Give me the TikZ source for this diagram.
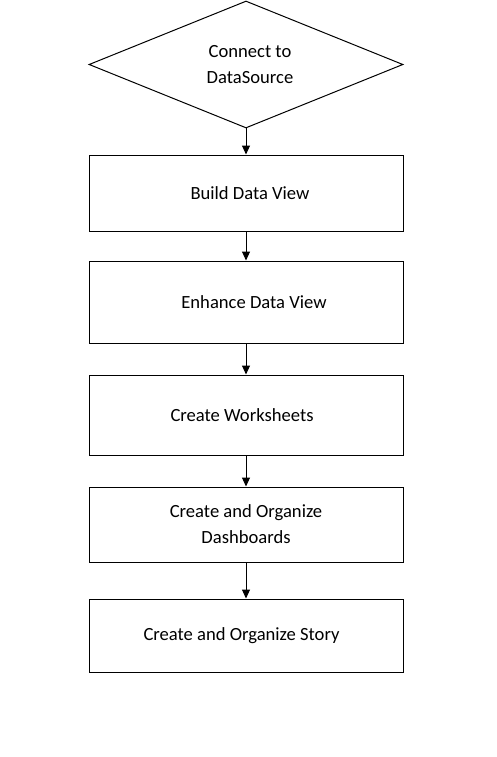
\documentclass[tikz,border=0pt]{standalone}
\usepackage{fontspec}
\setmainfont{Carlito}
\usetikzlibrary{shapes.geometric,arrows.meta}
\begin{document}
\begin{tikzpicture}[x=1pt,y=-1pt,
  every node/.style={font=\fontsize{18.6}{26}\selectfont, text=black},
  stepbox/.style={draw, line width=1pt, rectangle, minimum width=314pt, inner sep=0pt, align=center},
  decision/.style={draw, line width=1pt, diamond, aspect=2.47, minimum width=314pt, minimum height=127pt, inner sep=0pt, align=center},
  flow/.style={line width=1pt, -{Triangle[length=9pt,width=8pt]}}]
\useasboundingbox (0,0) rectangle (497,757);
\node[decision] (d) at (246,64.5) {\hspace{8pt}Connect to\\\hspace{8pt}DataSource};
\node[stepbox, minimum height=76pt] (b1) at (246,193) {\hspace{8pt}Build Data View};
\node[stepbox, minimum height=82pt] (b2) at (246,302) {\hspace{16pt}Enhance Data View};
\node[stepbox, minimum height=80pt] (b3) at (246,415) {Create Worksheets\hspace{8pt}};
\node[stepbox, minimum height=75pt] (b4) at (246,524.5) {Create and Organize\hspace{7pt}\\Dashboards\hspace{7pt}};
\node[stepbox, minimum height=73pt] (b5) at (246,635.5) {Create and Organize Story\hspace{9pt}};
\draw[flow] (d.south) -- (b1.north);
\draw[flow] (b1) -- (b2);
\draw[flow] (b2) -- (b3);
\draw[flow] (b3) -- (b4);
\draw[flow] (b4) -- (b5);
\end{tikzpicture}
\end{document}
